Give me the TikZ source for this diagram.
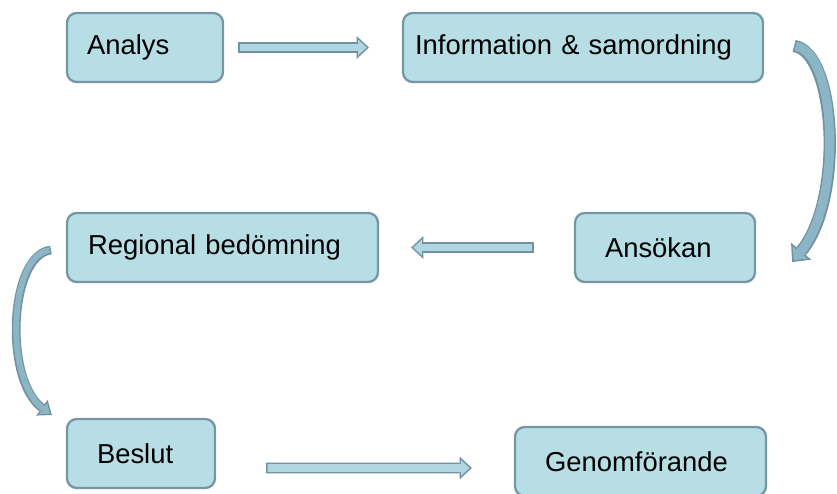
\documentclass[tikz,border=0pt]{standalone}
\usepackage{fontspec}
\setmainfont{Liberation Sans}
\usetikzlibrary{arrows.meta}
\definecolor{boxfill}{RGB}{183,221,229}
\definecolor{boxline}{RGB}{118,150,166}
\definecolor{arrfill}{RGB}{176,214,226}
\definecolor{arrline}{RGB}{112,146,162}
\definecolor{bendfill}{RGB}{140,182,197}
\tikzset{
    box/.style n args={2}{draw=boxline, fill=boxfill, line width=1.3pt, rounded corners=5.5pt,
        minimum height=1.38cm, text width=#1, inner xsep=#2, align=left,
        font=\fontsize{15.6}{18}\selectfont},
    flowout/.style={line width=6.2pt, draw=arrline, -{Triangle[length=7pt,width=13pt,line width=0pt]}},
    flowin/.style={line width=4.4pt, draw=arrfill, shorten <=0.9pt, shorten >=1.3pt,
        -{Triangle[length=4.8pt,width=8.9pt,line width=0pt]}},
    bendout/.style={line width=7pt, draw=arrline, -{Triangle[length=8pt,width=15pt,line width=0pt]}},
    bendin/.style={line width=5.2pt, draw=bendfill, shorten <=0.9pt, shorten >=1.3pt,
        -{Triangle[length=5.8pt,width=10.8pt,line width=0pt]}},
    thinout/.style={line width=5pt, draw=arrline, -{Triangle[length=7pt,width=11pt,line width=0pt]}},
    thinin/.style={line width=3.4pt, draw=bendfill, shorten <=0.8pt, shorten >=1.3pt,
        -{Triangle[length=4.9pt,width=7.7pt,line width=0pt]}}
}
\newcommand{\blockarrow}[3]{\draw[#1] #3; \draw[#2] #3;}

\begin{document}
\begin{tikzpicture}[x=0.02cm, y=-0.02cm]
        \useasboundingbox (0,0) rectangle (837,493);
        \node[box={2.32cm}{0.4cm}]  (analys)   at (145,47.5)   {Analys};
        \node[box={6.72cm}{0.24cm}] (info)     at (583,47.5)   {Information \& samordning};
        \node[box={2.4cm}{0.6cm}]   (ansokan)  at (665,247.5)  {Ansökan};
        \node[box={5.38cm}{0.42cm}] (regional) at (222.5,247.5) {Regional bedömning};
        \node[box={1.76cm}{0.6cm}]  (beslut)   at (141,453.5)  {Beslut};
        \node[box={3.82cm}{0.6cm}]  (genom)    at (640.5,461.5) {Genomförande};

        \blockarrow{flowout}{flowin}{([xshift=0.28cm]analys.east) -- ([xshift=-0.66cm]info.west)}
        \blockarrow{bendout}{bendin}{([xshift=0.6cm, yshift=0.03cm]info.east)
            .. controls +(42,6) and +(52,-62) .. ([xshift=0.72cm, yshift=-0.29cm]ansokan.east)}
        \blockarrow{flowout}{flowin}{([xshift=-0.8cm]ansokan.west) -- ([xshift=0.64cm]regional.east)}
        \blockarrow{thinout}{thinin}{([xshift=-0.3cm, yshift=-0.05cm]regional.west)
            .. controls +(-42,5) and +(-48,-35) .. ([xshift=-0.28cm, yshift=0.77cm]beslut.west)}
        \blockarrow{flowout}{flowin}{([xshift=1cm, yshift=-0.29cm]beslut.east) -- ([xshift=-0.84cm, yshift=-0.13cm]genom.west)}
    \end{tikzpicture}
\end{document}
